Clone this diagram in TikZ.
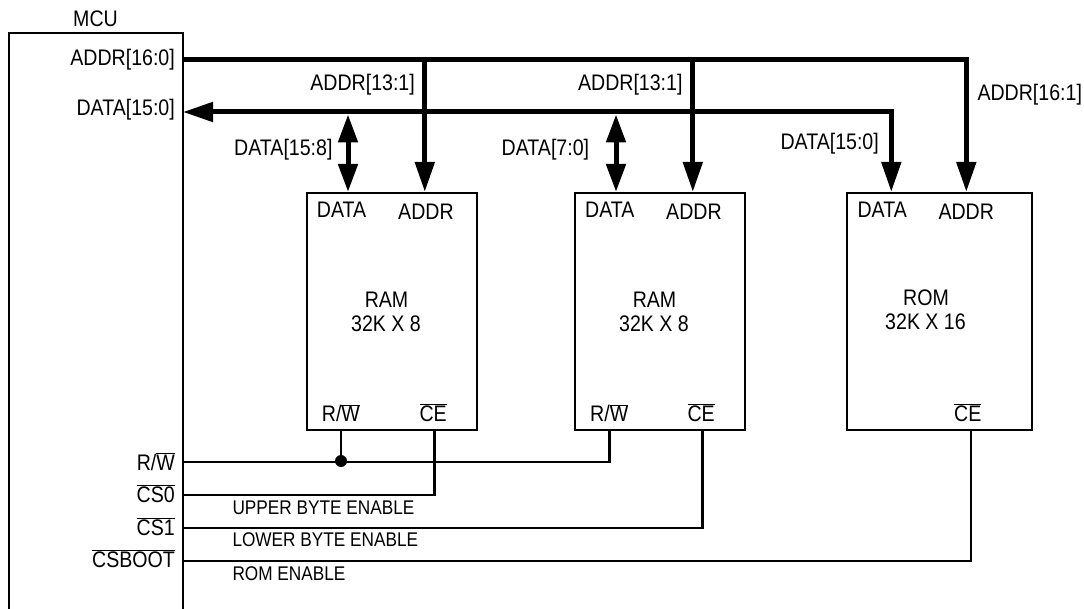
\documentclass[tikz,border=0pt]{standalone}
\usepackage{fontspec}
\setmainfont[FakeStretch=0.87]{Liberation Sans}
\usetikzlibrary{arrows.meta}
\tikzset{
  x=1pt,y=-1pt,
  lbl/.style={inner sep=0pt,font=\fontsize{22.5}{24}\selectfont},
  small/.style={inner sep=0pt,font=\fontsize{19.8}{22}\selectfont,anchor=base west},
  lw/.style={lbl,anchor=base west},
  le/.style={lbl,anchor=base east},
  lc/.style={lbl,anchor=base},
  box/.style={draw,line width=2.2pt,minimum width=170pt,minimum height=237pt,inner sep=0pt},
  bus/.style={line width=5pt},
  sig/.style={line width=2.2pt},
  headend/.style={-{Triangle[length=30pt,width=19pt]}},
  headboth/.style={{Triangle[length=28pt,width=19pt]}-{Triangle[length=28pt,width=19pt]}},
  headdata/.style={{Triangle[length=30pt,width=19pt]}-{Triangle[length=30pt,width=19pt]}},
  dotpt/.style={circle,fill=black,inner sep=0pt,minimum size=12pt}
}
\newcommand{\ol}[1]{$\overline{\mbox{#1}}$}
\begin{document}
\begin{tikzpicture}
\useasboundingbox (0,0) rectangle (1084,609);
% blocks
\node[minimum width=174pt,minimum height=576pt,inner sep=0pt] (mcu) at (96,321) {};
\draw[sig] (mcu.south west) -- (mcu.north west) -- (mcu.north east) -- (mcu.south east);
\node[box] (ram1) at (392,311.5) {};
\node[box] (ram2) at (660,311.5) {};
\node[box,minimum width=185pt] (rom) at (939.5,311.5) {};
% bus and signal points
\coordinate (addrpin) at (184,59.5);
\coordinate (datapin) at (183,112);
\coordinate (rwpin) at (184,462);
\coordinate (rwc) at (609.5,462);
\coordinate (cs0pin) at (184,495);
\coordinate (c0) at (434.5,495);
\coordinate (cs1pin) at (184,527.7);
\coordinate (c1) at (702.5,527.7);
\coordinate (csbpin) at (184,560.7);
\coordinate (c2) at (971,560.7);
\coordinate (aj1) at (424.8,59.5);
\coordinate (aj2) at (692.8,59.5);
\coordinate (acorner) at (966.3,59.5);
\coordinate (dcorner) at (891.3,112);
\coordinate (dj1) at (348,114.5);
\coordinate (dj2) at (616,114.5);
\node[dotpt] (dot) at (341,461) {};
% address bus
\draw[bus,headend] (addrpin) -- (acorner) -- (acorner |- rom.north);
\draw[bus,headend] (aj1) -- (aj1 |- ram1.north);
\draw[bus,headend] (aj2) -- (aj2 |- ram2.north);
% data bus
\draw[bus,headdata] (datapin) -- (dcorner) -- (dcorner |- rom.north);
\draw[bus,headboth] (dj1) -- (dj1 |- ram1.north);
\draw[bus,headboth] (dj2) -- (dj2 |- ram2.north);
% control lines
\draw[sig] (rwpin) -- (rwc) -- (rwc |- ram2.south);
\draw[sig] (dot.center) -- (dot |- ram1.south);
\draw[sig] (cs0pin) -- (c0) -- (c0 |- ram1.south);
\draw[sig] (cs1pin) -- (c1) -- (c1 |- ram2.south);
\draw[sig] (csbpin) -- (c2) -- (c2 |- rom.south);
% labels
\node[le] (tmcu) at (118,26.7) {MCU};
\node[le] (taddrm) at (175,66) {ADDR[16:0]};
\node[le] (tdatam) at (175,116) {DATA[15:0]};
\node[le] (ta1) at (415,91) {ADDR[13:1]};
\node[le] (td1) at (332.7,156) {DATA[15:8]};
\node[le] (ta2) at (682.7,91) {ADDR[13:1]};
\node[le] (td2) at (589.3,156) {DATA[7:0]};
\node[le] (td3) at (879,150) {DATA[15:0]};
\node[lw] (ta3) at (977.3,100.7) {ADDR[16:1]};
\node[lw] (r1d) at (316.7,218) {DATA};
\node[lw] (r1a) at (398,220) {ADDR};
\node[lw] (r2d) at (585,218) {DATA};
\node[lw] (r2a) at (666,220) {ADDR};
\node[lw] (r3d) at (857.3,218) {DATA};
\node[lw] (r3a) at (938.3,220) {ADDR};
\node[lc] (r1n) at (386.5,308) {RAM};
\node[lc] (r1s) at (386,331.5) {32K X 8};
\node[lc] (r2n) at (654.5,308) {RAM};
\node[lc] (r2s) at (654,331.5) {32K X 8};
\node[lc] (r3n) at (926,306) {ROM};
\node[lc] (r3s) at (925.5,330) {32K X 16};
\node[lw] (r1w) at (321.7,421.7) {R/\ol{W}};
\node[lw] (r1c) at (419.3,421.7) {\ol{CE}};
\node[lw] (r2w) at (590,421.7) {R/\ol{W}};
\node[lw] (r2c) at (687.3,421.7) {\ol{CE}};
\node[lw] (r3c) at (954,421.7) {\ol{CE}};
\node[le] (prw) at (175,470) {R/\ol{W}};
\node[le] (pc0) at (175,502.3) {\ol{CS0}};
\node[le] (pc1) at (175,535) {\ol{CS1}};
\node[le] (pcb) at (175,567.7) {\ol{CSBOOT}};
\node[small] (tu) at (232.3,514) {UPPER BYTE ENABLE};
\node[small] (tl) at (232.3,546) {LOWER BYTE ENABLE};
\node[small] (tr) at (232.3,580) {ROM ENABLE};
\end{tikzpicture}
\end{document}
